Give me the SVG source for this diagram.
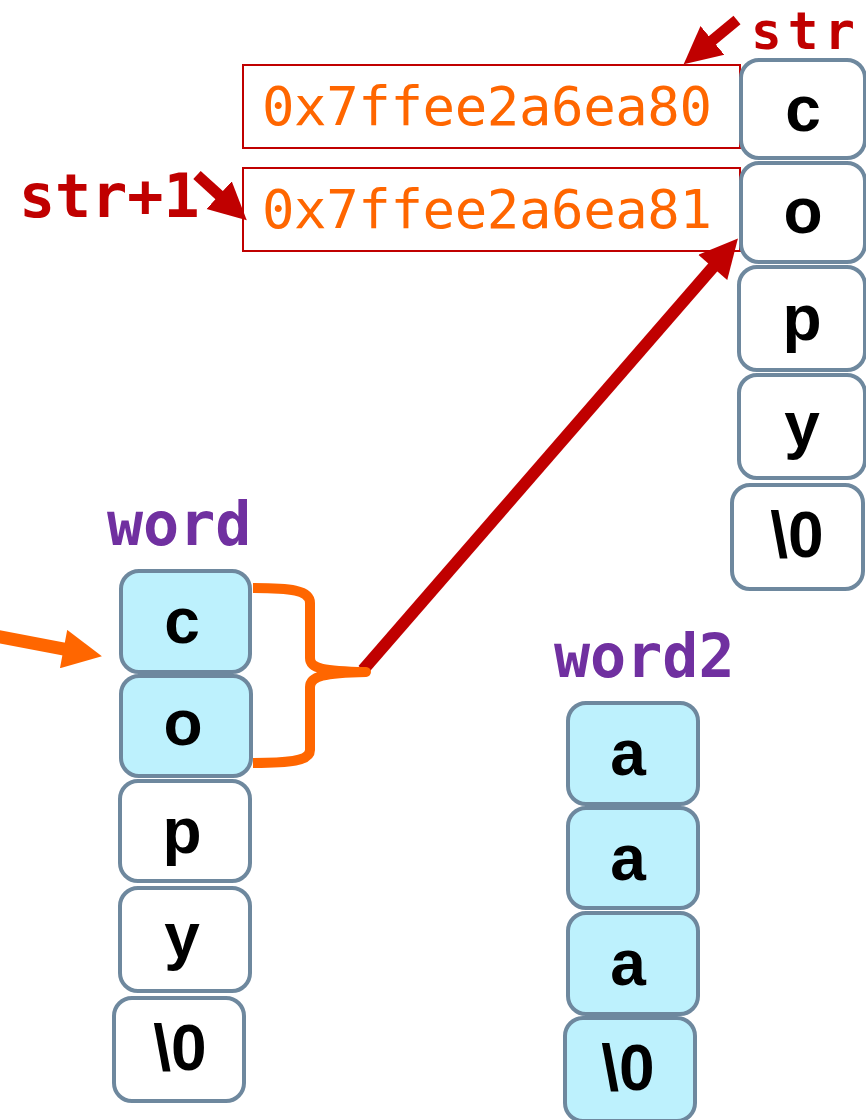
<svg xmlns="http://www.w3.org/2000/svg" width="866" height="1120" viewBox="0 0 866 1120">
  <style>
    .cell { stroke: #6e889e; stroke-width: 4; }
    .plain { fill: #ffffff; }
    .hl { fill: #bdf1fd; }
    .ch { font-family: "Liberation Sans", Arial, sans-serif; font-weight: bold; font-size: 64px; fill: #000000; text-anchor: middle; }
    .addr-box { fill: #ffffff; stroke: #c00000; stroke-width: 2; }
    .addr { font-family: "DejaVu Sans Mono", "Liberation Mono", monospace; font-size: 54px; fill: #ff6600; }
    .ptr { font-family: "DejaVu Sans Mono", "Liberation Mono", monospace; font-weight: bold; font-size: 60px; fill: #c00000; }
    .ptr-top { font-size: 51px; }
    .var { font-family: "DejaVu Sans Mono", "Liberation Mono", monospace; font-weight: bold; font-size: 60px; fill: #7030a0; }
    .red-line { stroke: #c00000; fill: none; stroke-linecap: butt; }
    .orange-line { stroke: #ff6600; fill: none; }
  </style>
  <defs>
    <marker id="headRed" viewBox="0 0 10 10" refX="0.5" refY="5" markerWidth="3.3" markerHeight="3.2" markerUnits="strokeWidth" orient="auto">
      <path d="M0,0 L10,5 L0,10 z" fill="#c00000"/>
    </marker>
    <marker id="headRedSmall" viewBox="0 0 10 10" refX="0.5" refY="5" markerWidth="3.4" markerHeight="3.6" markerUnits="strokeWidth" orient="auto">
      <path d="M0,0 L10,5 L0,10 z" fill="#c00000"/>
    </marker>
    <marker id="headOrange" viewBox="0 0 10 10" refX="0.5" refY="5" markerWidth="3.2" markerHeight="3.0" markerUnits="strokeWidth" orient="auto">
      <path d="M0,0 L10,5 L0,10 z" fill="#ff6600"/>
    </marker>
  </defs>

  <!-- address boxes -->
  <g id="addr0">
    <rect class="addr-box" x="243" y="65" width="497" height="83"/>
    <text class="addr" x="262" y="125" textLength="450" lengthAdjust="spacing">0x7ffee2a6ea80</text>
  </g>
  <g id="addr1">
    <rect class="addr-box" x="243" y="168" width="497" height="83"/>
    <text class="addr" x="262" y="228" textLength="450" lengthAdjust="spacing">0x7ffee2a6ea81</text>
  </g>

  <!-- pointer labels -->
  <g id="label-str">
    <text class="ptr ptr-top" x="751" y="49" textLength="104" lengthAdjust="spacing">str</text>
  </g>
  <g id="label-str1">
    <text class="ptr" x="19" y="217">str+1</text>
  </g>

  <!-- str string cells -->
  <g id="str">
    <g id="str-0"><rect class="cell plain" x="741" y="60" width="124" height="98" rx="18"/><text class="ch" x="803" y="131">c</text></g>
    <g id="str-1"><rect class="cell plain" x="741" y="163" width="124" height="99" rx="18"/><text class="ch" x="803" y="233">o</text></g>
    <g id="str-2"><rect class="cell plain" x="739" y="267" width="126" height="103" rx="18"/><text class="ch" x="802" y="340">p</text></g>
    <g id="str-3"><rect class="cell plain" x="739" y="375" width="126" height="103" rx="18"/><text class="ch" x="802" y="447">y</text></g>
    <g id="str-4"><rect class="cell plain" x="732" y="485" width="131" height="104" rx="18"/><text class="ch" x="797" y="557">\0</text></g>
  </g>

  <!-- word array -->
  <g id="word">
    <text class="var" x="107" y="545">word</text>
    <g id="word-0"><rect class="cell hl" x="121" y="571" width="129" height="101" rx="18"/><text class="ch" x="182" y="643">c</text></g>
    <g id="word-1"><rect class="cell hl" x="121" y="676" width="130" height="100" rx="18"/><text class="ch" x="183" y="745">o</text></g>
    <g id="word-2"><rect class="cell plain" x="120" y="781" width="130" height="100" rx="18"/><text class="ch" x="182" y="853">p</text></g>
    <g id="word-3"><rect class="cell plain" x="120" y="888" width="130" height="103" rx="18"/><text class="ch" x="182" y="958">y</text></g>
    <g id="word-4"><rect class="cell plain" x="114" y="998" width="130" height="103" rx="18"/><text class="ch" x="180" y="1070">\0</text></g>
  </g>

  <!-- word2 array -->
  <g id="word2">
    <text class="var" x="554" y="677">word2</text>
    <g id="word2-0"><rect class="cell hl" x="568" y="703" width="130" height="101" rx="18"/><text class="ch" x="628" y="775">a</text></g>
    <g id="word2-1"><rect class="cell hl" x="568" y="808" width="130" height="100" rx="18"/><text class="ch" x="628" y="880">a</text></g>
    <g id="word2-2"><rect class="cell hl" x="568" y="913" width="130" height="101" rx="18"/><text class="ch" x="628" y="985">a</text></g>
    <g id="word2-3"><rect class="cell hl" x="565" y="1018" width="130" height="103" rx="18"/><text class="ch" x="628" y="1090">\0</text></g>
  </g>

  <!-- connectors -->
  <g id="connectors">
    <path class="red-line" d="M737,20 L711,41.6" stroke-width="11" marker-end="url(#headRedSmall)"/>
    <path class="red-line" d="M197,175 L220.5,196.4" stroke-width="11" marker-end="url(#headRedSmall)"/>
    <path class="red-line" d="M363,670 L714,266" stroke-width="12" marker-end="url(#headRed)"/>
    <path class="orange-line" d="M-5,636 L65.5,649.4" stroke-width="13" marker-end="url(#headOrange)"/>
    <path class="orange-line" d="M253,588 C290,588 310,590 310,603 L310,658 C310,669 324,671 366,672 C324,673 310,676 310,687 L310,750 C310,761 290,763 253,763" stroke-width="10" stroke-linejoin="round" stroke-linecap="butt"/>
  </g>
</svg>
